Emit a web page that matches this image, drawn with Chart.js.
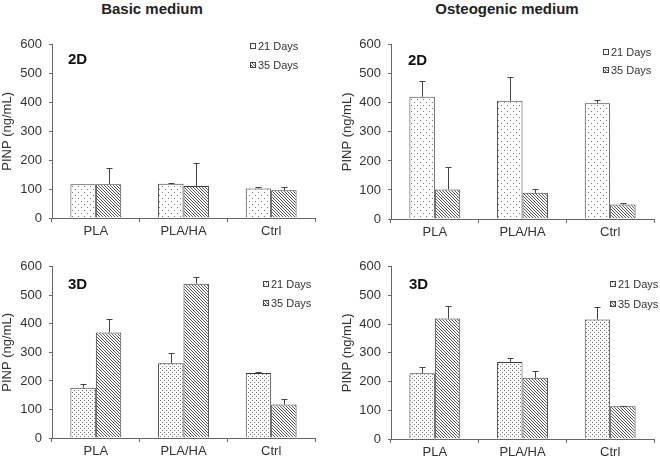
<!DOCTYPE html>
<html>
<head>
<meta charset="utf-8">
<script src="https://cdn.jsdelivr.net/npm/chart.js@4"></script>
<style>
  body { margin: 0; background: #fff; }
  #wrap { position: relative; width: 660px; height: 461px; font-family: "Liberation Sans", Arial, sans-serif; }
  .col-title { position: absolute; top: 0; font-weight: bold; font-size: 15px; color: #222; white-space: nowrap; transform: translateX(-50%); }
  canvas { position: absolute; }
</style>
</head>
<body>
<div id="wrap">
  <div class="col-title" style="left:152px">Basic medium</div>
  <div class="col-title" style="left:507px">Osteogenic medium</div>
  <canvas id="basic2d" width="330" height="220" style="left:0;top:30px"></canvas>
  <canvas id="osteo2d" width="330" height="220" style="left:330px;top:30px"></canvas>
  <canvas id="basic3d" width="330" height="209" style="left:0;top:252px"></canvas>
  <canvas id="osteo3d" width="330" height="209" style="left:330px;top:252px"></canvas>
</div>
<script>
const categories = ['PLA', 'PLA/HA', 'Ctrl'];
const seriesNames = ['21 Days', '35 Days'];
const yMin = 0, yMax = 600, yStep = 100;

// PINP (ng/mL), mean and upper error
const basic2D_21 = [117, 119, 102];
const basic2D_21_err = [0, 3, 6];
const basic2D_35 = [117, 111, 96];
const basic2D_35_err = [55, 79, 12];

const osteo2D_21 = [421, 407, 399];
const osteo2D_21_err = [54, 81, 11];
const osteo2D_35 = [102, 90, 50];
const osteo2D_35_err = [78, 12, 5];

const basic3D_21 = [176, 262, 228];
const basic3D_21_err = [12, 35, 5];
const basic3D_35 = [370, 541, 117];
const basic3D_35_err = [47, 25, 18];

const osteo3D_21 = [229, 268, 416];
const osteo3D_21_err = [21, 15, 43];
const osteo3D_35 = [420, 213, 114];
const osteo3D_35_err = [42, 23, 2];

const FONT = '"Liberation Sans", Arial, sans-serif';
Chart.defaults.font.family = FONT;

function dotPattern(step) {
    const c = document.createElement('canvas');
    c.width = step * 2; c.height = step * 2;
    const g = c.getContext('2d');
    g.fillStyle = '#fff';
    g.fillRect(0, 0, c.width, c.height);
    g.fillStyle = '#777';
    g.fillRect(0, 0, 1, 1);
    g.fillRect(step, step, 1, 1);
    return g.createPattern(c, 'repeat');
}

function hatchPattern() {
    const c = document.createElement('canvas');
    c.width = 3; c.height = 3;
    const g = c.getContext('2d');
    g.fillStyle = '#fff';
    g.fillRect(0, 0, 3, 3);
    g.fillStyle = '#5a5a5a';
    for (let i = 0; i < 3; i++) g.fillRect(i, i, 1, 1);
    return g.createPattern(c, 'repeat');
}

const panelExtras = {
    id: 'panelExtras',
    afterDatasetsDraw(chart, args, opts) {
        const ctx = chart.ctx;
        const yScale = chart.scales.y;
        const area = chart.chartArea;
        ctx.save();

        // error bars (upper only)
        ctx.strokeStyle = '#444';
        ctx.lineWidth = 1;
        chart.data.datasets.forEach((ds, i) => {
            chart.getDatasetMeta(i).data.forEach((bar, j) => {
                const err = ds.errors[j];
                if (!err) return;
                const x = Math.round(bar.x) + 0.5;
                const yTop = Math.round(yScale.getPixelForValue(ds.data[j] + err)) + 0.5;
                ctx.beginPath();
                ctx.moveTo(x, bar.y);
                ctx.lineTo(x, yTop);
                ctx.moveTo(x - 3, yTop);
                ctx.lineTo(x + 3, yTop);
                ctx.stroke();
            });
        });

        // panel tag
        ctx.fillStyle = '#111';
        ctx.font = 'bold 15px ' + FONT;
        ctx.textBaseline = 'middle';
        ctx.textAlign = 'left';
        ctx.fillText(opts.tag, area.left + opts.tagX, area.top + opts.tagY);

        // legend
        ctx.font = '11px ' + FONT;
        chart.data.datasets.forEach((ds, i) => {
            const bx = area.right - opts.legX;
            const by = Math.round(area.top + opts.legY[i]);
            ctx.fillStyle = ds.backgroundColor;
            ctx.fillRect(bx, by - 3, 6, 6);
            ctx.strokeStyle = '#444';
            ctx.strokeRect(bx + 0.5, by - 2.5, 5, 5);
            ctx.fillStyle = '#333';
            ctx.fillText(ds.label, bx + 8, by + 0.5);
        });
        ctx.restore();
    }
};

function makePanel(canvasId, d21, e21, d35, e35, cfg) {
    const ctx = document.getElementById(canvasId);
    if (!ctx) return;
    return new Chart(ctx, {
        type: 'bar',
        data: {
            labels: categories,
            datasets: [{
                label: seriesNames[0],
                data: d21,
                errors: e21,
                backgroundColor: dotPattern(cfg.dot),
                borderColor: '#3c3c3c',
                borderWidth: 1
            }, {
                label: seriesNames[1],
                data: d35,
                errors: e35,
                backgroundColor: hatchPattern(),
                borderColor: '#3c3c3c',
                borderWidth: 1
            }]
        },
        options: {
            responsive: false,
            animation: false,
            categoryPercentage: 0.58,
            barPercentage: 1.0,
            layout: { padding: { left: 0, right: cfg.padRight, top: 13, bottom: 0 } },
            plugins: {
                legend: { display: false },
                tooltip: { enabled: false },
                panelExtras: cfg.extras
            },
            scales: {
                x: {
                    grid: { drawOnChartArea: false, tickLength: 4, color: '#666', offset: true },
                    border: { color: '#666' },
                    ticks: { color: '#333', font: { size: 13 }, padding: 2 },
                    afterFit(scale) { scale.height = cfg.xHeight; }
                },
                y: {
                    min: yMin,
                    max: yMax,
                    ticks: { stepSize: yStep, color: '#333', font: { size: 13 }, padding: 7 },
                    grid: { drawOnChartArea: false, tickLength: 3, color: '#666' },
                    border: { color: '#666' },
                    title: {
                        display: true,
                        text: 'PINP (ng/mL)',
                        color: '#333',
                        font: { size: 13 },
                        padding: { top: cfg.titlePad, bottom: 0 }
                    },
                    afterFit(scale) { scale.width = cfg.yWidth; }
                }
            }
        },
        plugins: [panelExtras]
    });
}

makePanel('basic2d', basic2D_21, basic2D_21_err, basic2D_35, basic2D_35_err, {
    dot: 3, padRight: 15, xHeight: 32, yWidth: 52, titlePad: 0,
    extras: { tag: '2D', tagX: 16, tagY: 15, legX: 65, legY: [1.5, 20.5] }
});
makePanel('osteo2d', osteo2D_21, osteo2D_21_err, osteo2D_35, osteo2D_35_err, {
    dot: 3, padRight: 6, xHeight: 31, yWidth: 61, titlePad: 10,
    extras: { tag: '2D', tagX: 17, tagY: 16, legX: 51, legY: [7, 25] }
});
makePanel('basic3d', basic3D_21, basic3D_21_err, basic3D_35, basic3D_35_err, {
    dot: 2, padRight: 15, xHeight: 23, yWidth: 52, titlePad: 0,
    extras: { tag: '3D', tagX: 16, tagY: 18, legX: 52, legY: [17, 36] }
});
makePanel('osteo3d', osteo3D_21, osteo3D_21_err, osteo3D_35, osteo3D_35_err, {
    dot: 2, padRight: 6, xHeight: 22, yWidth: 61, titlePad: 10,
    extras: { tag: '3D', tagX: 18, tagY: 18, legX: 44, legY: [17, 37] }
});
</script>
</body>
</html>
